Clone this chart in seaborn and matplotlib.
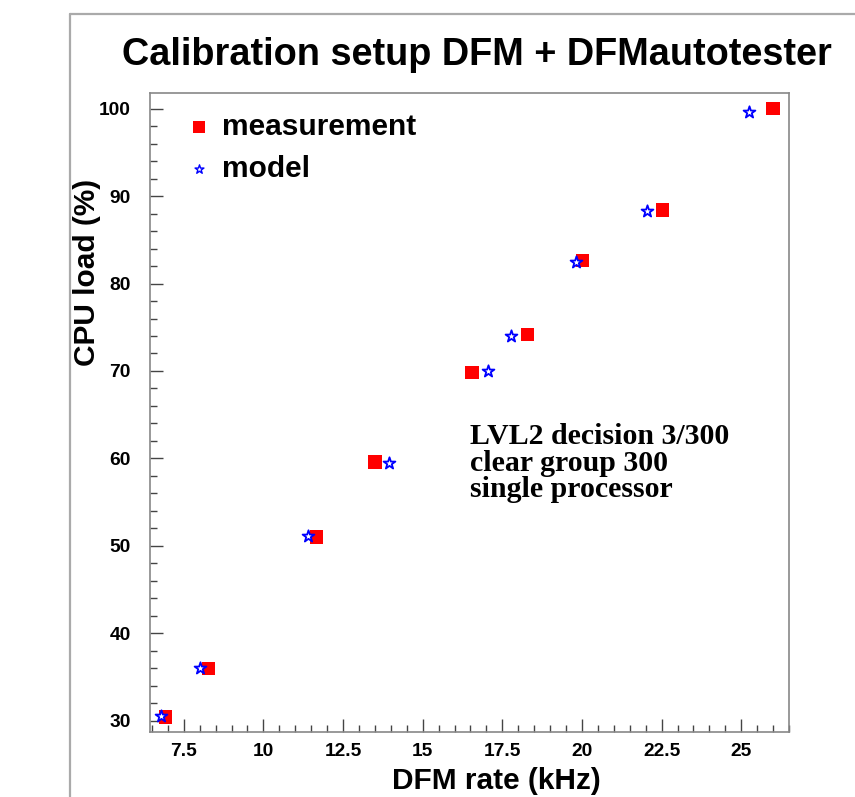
import matplotlib
matplotlib.use("Agg")
import matplotlib.pyplot as plt
from matplotlib.lines import Line2D
from matplotlib.ticker import MultipleLocator
import seaborn as sns
import pandas as pd

# ---- data ----
meas_rate = [6.93, 8.28, 11.67, 13.50, 16.55, 18.30, 20.01, 22.52, 26.00]
meas_load = [30.4, 36.0, 51.0, 59.6, 69.8, 74.2, 82.6, 88.4, 100.0]
model_rate = [6.79, 8.01, 11.39, 13.94, 17.04, 17.77, 19.80, 22.04, 25.24]
model_load = [30.5, 36.0, 51.1, 59.5, 70.0, 74.0, 82.5, 88.3, 99.6]
series_names = ["measurement", "model"]
title_text = "Calibration setup DFM + DFMautotester"
xlabel_text = "DFM rate (kHz)"
ylabel_text = "CPU load (%)"
note_lines = ["LVL2 decision 3/300", "clear group 300", "single processor"]

sns.set_style("white")
plt.rcParams["font.family"] = ["Liberation Sans", "DejaVu Sans"]
plt.rcParams["font.weight"] = "bold"
plt.rcParams["text.color"] = "black"
plt.rcParams["axes.labelcolor"] = "black"
plt.rcParams["xtick.color"] = "black"
plt.rcParams["ytick.color"] = "black"

W, H = 855, 797
fig = plt.figure(figsize=(W / 100, H / 100), dpi=100)
fig.patch.set_facecolor("white")

# axes box in pixel coords: left 150, right 789, top 93, bottom 732
L, R, T, B = 150, 789, 93, 732
ax = fig.add_axes([L / W, (H - B) / H, (R - L) / W, (B - T) / H])

df_meas = pd.DataFrame({"rate": meas_rate, "load": meas_load})
df_model = pd.DataFrame({"rate": model_rate, "load": model_load})

sns.scatterplot(data=df_meas, x="rate", y="load", marker="s", s=92,
                color="#ff0000", edgecolor="none", linewidth=0,
                label=series_names[0], ax=ax, zorder=3)
sns.scatterplot(data=df_model, x="rate", y="load", marker="*", s=80,
                facecolor="white", edgecolor="#0000ff", linewidth=1.3,
                label=series_names[1], ax=ax, zorder=4)

ax.set_xlim(6.44, 26.5)
ax.set_ylim(28.7, 101.8)

ax.xaxis.set_minor_locator(MultipleLocator(0.5))
ax.yaxis.set_minor_locator(MultipleLocator(2))
ax.set_xticks([7.5, 10, 12.5, 15, 17.5, 20, 22.5, 25])
ax.set_xticklabels(["7.5", "10", "12.5", "15", "17.5", "20", "22.5", "25"])
ax.set_yticks([30, 40, 50, 60, 70, 80, 90, 100])

ax.tick_params(axis="both", which="major", direction="in", length=9.5,
               width=1.0, color="#444444", labelsize=13.8, labelcolor="black")
ax.tick_params(axis="both", which="minor", direction="in", length=5,
               width=1.0, color="#444444")
ax.tick_params(axis="x", which="both", bottom=True, top=False, pad=8)
ax.tick_params(axis="y", which="both", left=True, right=False, pad=14)
for lab in ax.get_xticklabels() + ax.get_yticklabels():
    lab.set_fontweight("bold")

for sp in ax.spines.values():
    sp.set_color("#888888")
    sp.set_linewidth(1.2)
    sp.set_visible(True)

ax.set_xlabel("")
ax.set_ylabel("")

# legend
leg = ax.legend(loc="upper left", bbox_to_anchor=((186 - L) / (R - L), 1 - (113 - T) / (B - T)),
                frameon=False, prop={"family": "Liberation Sans", "weight": "bold", "size": 21.5},
                handlelength=0.85, handletextpad=0.35, labelspacing=0.46,
                borderpad=0, borderaxespad=0)
for t in leg.get_texts():
    t.set_color("black")
hs = leg.legend_handles
hs[0].set_sizes([72])
hs[1].set_sizes([45])
hs[1].set_linewidth(1.0)

# title and axis labels
fig.text(477 / W, (H - 65) / H, title_text, ha="center", va="baseline",
         fontsize=27.3, fontweight="bold", family="Liberation Sans", color="black")
fig.text(496 / W, (H - 789) / H, xlabel_text, ha="center", va="baseline",
         fontsize=21.5, fontweight="bold", family="Liberation Sans", color="black")
fig.text(87 / W, (H - 272) / H, ylabel_text, ha="center", va="center", rotation=90,
         fontsize=21.5, fontweight="bold", family="Liberation Sans", color="black")

# annotation (one text per line, baselines from the reference)
for line, base in zip(note_lines, [444, 471, 497]):
    fig.text(470 / W, (H - base) / H, line, ha="left", va="baseline",
             fontsize=21.5, fontweight="bold", family="Liberation Serif", color="black")

# canvas border (ROOT pad frame)
fig.add_artist(Line2D([70 / W, 70 / W], [0, (H - 14) / H], transform=fig.transFigure,
                      color="#aaaaaa", linewidth=1.6))
fig.add_artist(Line2D([70 / W, 1], [(H - 14) / H, (H - 14) / H], transform=fig.transFigure,
                      color="#aaaaaa", linewidth=1.6))

fig.savefig("out.png", dpi=100, facecolor="white")
